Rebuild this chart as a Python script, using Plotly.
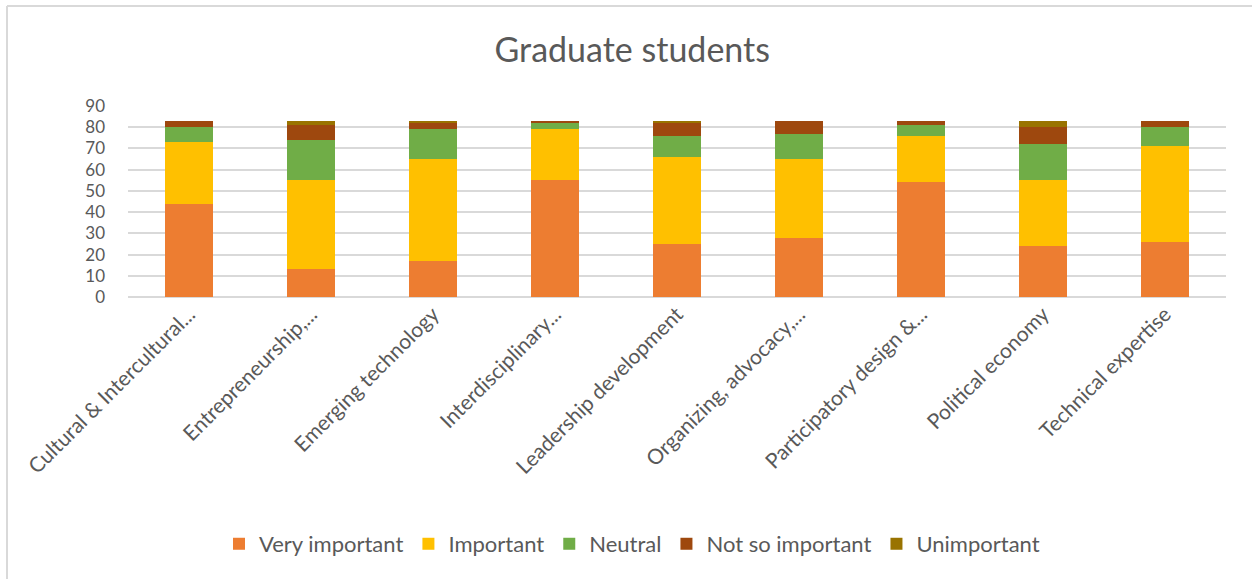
import plotly.graph_objects as go

# Competency areas rated by graduate students
categories = [
    "Cultural & Intercultural...",
    "Entrepreneurship,...",
    "Emerging technology",
    "Interdisciplinary...",
    "Leadership development",
    "Organizing, advocacy,...",
    "Participatory design &...",
    "Political economy",
    "Technical expertise",
]

very_important = [44, 13, 17, 55, 25, 28, 54, 24, 26]
important = [29, 42, 48, 24, 41, 37, 22, 31, 45]
neutral = [7, 19, 14, 3, 10, 12, 5, 17, 9]
not_so_important = [3, 7, 3, 1, 6, 6, 2, 8, 3]
unimportant = [0, 2, 1, 0, 1, 0, 0, 3, 0]

series = [
    ("Very important", very_important, "#ED7D31"),
    ("Important", important, "#FFC000"),
    ("Neutral", neutral, "#70AD47"),
    ("Not so important", not_so_important, "#9E480E"),
    ("Unimportant", unimportant, "#997300"),
]

FONT = "Lato"
TEXT = "#595959"
GRID = "#D9D9D9"

fig = go.Figure()
for name, vals, color in series:
    fig.add_trace(go.Bar(
        x=categories, y=vals, name=name,
        marker=dict(color=color, line=dict(width=0)),
        width=0.4,
    ))

fig.update_layout(
    barmode="stack",
    width=1252, height=579,
    margin=dict(l=128, r=26, t=106, b=282),
    paper_bgcolor="white", plot_bgcolor="white",
    font=dict(family=FONT, color=TEXT),
    title=dict(
        text="Graduate students",
        font=dict(family=FONT, size=34, color=TEXT),
        x=0.505, xref="container", xanchor="center",
        y=1 - 50 / 579, yref="container", yanchor="middle",
    ),
    legend=dict(
        orientation="h",
        x=0.459, xanchor="center",
        y=-1.293, yanchor="middle",
        font=dict(family=FONT, size=22, color=TEXT),
        traceorder="normal",
    ),
    xaxis=dict(
        tickangle=-45,
        tickfont=dict(family=FONT, size=21, color=TEXT),
        showline=False, showgrid=False, ticks="",
    ),
    yaxis=dict(
        range=[0, 90], dtick=10,
        tickfont=dict(family=FONT, size=17, color=TEXT),
        gridcolor=GRID, gridwidth=1.5,
        zeroline=True, zerolinecolor=GRID, zerolinewidth=1.5,
        showline=False, ticks="",
        ticklabelstandoff=22,
    ),
    shapes=[
        dict(type="line", xref="paper", yref="paper",
             x0=(7 - 128) / 1098, x1=(7 - 128) / 1098,
             y0=(297 - 6) / 191, y1=-1.7,
             line=dict(color=GRID, width=2)),
        dict(type="line", xref="paper", yref="paper",
             x0=(7 - 128) / 1098, x1=1.1,
             y0=(297 - 6) / 191, y1=(297 - 6) / 191,
             line=dict(color=GRID, width=2)),
    ],
)

fig.write_html("out.html")
